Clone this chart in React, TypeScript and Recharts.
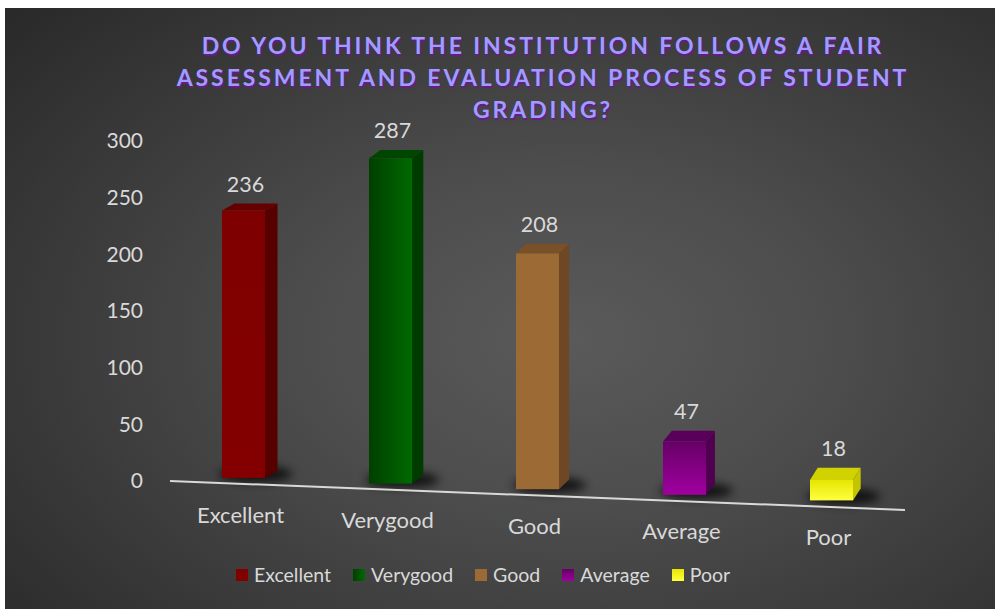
import React from 'react'
import { BarChart, Bar, XAxis, YAxis, Cell, LabelList, Legend, ReferenceLine } from 'recharts'

// values
const categories = ['Excellent', 'Verygood', 'Good', 'Average', 'Poor']
const counts = [236, 287, 208, 47, 18]
const yTicks = [0, 50, 100, 150, 200, 250, 300]

const title = [
  'DO YOU THINK THE INSTITUTION FOLLOWS A FAIR',
  'ASSESSMENT AND EVALUATION PROCESS OF STUDENT',
  'GRADING?',
]

const data = categories.map((name, i) => ({ name, value: counts[i] }))

// per-bar colours: front gradient (top, bottom, direction), side, top face
const palette = [
  { a: '#7f0000', b: '#840000', dir: 'v', side: '#560000', top: '#650000' },
  { a: '#003f00', b: '#006a00', dir: 'h', side: '#003b00', top: '#004600' },
  { a: '#9c6a35', b: '#9c6a35', dir: 'v', side: '#6e4824', top: '#7a5028' },
  { a: '#660066', b: '#a000a0', dir: 'v', side: '#4f004f', top: '#5a005a' },
  { a: '#e6e600', b: '#ffff40', dir: 'v', side: '#c4c400', top: '#d2d200' },
]

const FONT = 'Lato, "Noto Sans", sans-serif'
const TEXT = '#d9d9d9'
const TILT = 5.6 // baseline drops this much per category

const depth = (i: number) => ({ dx: 12.5 - i * 1.2, dy: -(7 + i * 1.3) })
const shift = (i: number) => -3 + i * TILT

function Box3D(props: any) {
  const { x, y, width, height, index } = props
  const p = palette[index]
  const { dx, dy } = depth(index)
  const top = y + shift(index)
  const bottom = y + height + shift(index)
  const right = x + width
  const gid = `front-${index}`
  return (
    <g>
      <defs>
        <linearGradient
          id={gid}
          x1="0"
          y1="0"
          x2={p.dir === 'h' ? '1' : '0'}
          y2={p.dir === 'h' ? '0' : '1'}
        >
          <stop offset="0%" stopColor={p.a} />
          <stop offset="100%" stopColor={p.b} />
        </linearGradient>
        <filter id={`blur-${index}`} x="-50%" y="-200%" width="200%" height="500%">
          <feGaussianBlur stdDeviation="5" />
        </filter>
      </defs>
      <ellipse
        cx={x + width / 2 + 12}
        cy={bottom - 4}
        rx={width * 0.85}
        ry={8}
        fill="#000"
        opacity={0.75}
        filter={`url(#blur-${index})`}
      />
      <polygon
        points={`${right},${top} ${right + dx},${top + dy} ${right + dx},${bottom + dy} ${right},${bottom}`}
        fill={p.side}
      />
      <polygon
        points={`${x},${top} ${x + dx},${top + dy} ${right + dx},${top + dy} ${right},${top}`}
        fill={p.top}
      />
      <rect x={x} y={top} width={width} height={bottom - top} fill={`url(#${gid})`} />
    </g>
  )
}

function ValueLabel(props: any) {
  const { x, y, width, value, index } = props
  const { dy } = depth(index)
  return (
    <text
      x={x + width / 2 + 2}
      y={y + shift(index) + dy - 17}
      textAnchor="middle"
      dominantBaseline="middle"
      fill={TEXT}
      fontSize={21.5}
      fontFamily={FONT}
    >
      {value}
    </text>
  )
}

function CategoryTick(props: any) {
  const { x, y, payload } = props
  return (
    <text
      x={x - 3}
      y={y + 36 + payload.index * TILT}
      textAnchor="middle"
      dominantBaseline="middle"
      fill={TEXT}
      fontSize={22}
      fontFamily={FONT}
    >
      {payload.value}
    </text>
  )
}

function TiltedBaseline(props: any) {
  const { x1, x2, y1 } = props
  return (
    <line
      x1={x1}
      y1={y1}
      x2={x2}
      y2={y1 + TILT * categories.length + 1}
      stroke="#d9d9d9"
      strokeWidth={2}
    />
  )
}

function LegendContent() {
  return (
    <div
      style={{
        display: 'flex',
        justifyContent: 'center',
        gap: 22,
        fontFamily: FONT,
        fontSize: 19.5,
        color: TEXT,
      }}
    >
      {categories.map((name, i) => {
        const p = palette[i]
        const bg =
          p.dir === 'h'
            ? `linear-gradient(to right, ${p.a}, ${p.b})`
            : `linear-gradient(to bottom, ${p.a}, ${p.b})`
        return (
          <div key={name} style={{ display: 'flex', alignItems: 'center', gap: 6 }}>
            <span style={{ width: 12, height: 12, background: bg, display: 'inline-block' }} />
            <span>{name}</span>
          </div>
        )
      })}
    </div>
  )
}

export default function App() {
  return (
    <div
      style={{
        position: 'absolute',
        left: 5,
        top: 8,
        width: 990,
        height: 601,
        background:
          'radial-gradient(ellipse 75% 80% at 57% 55%, #5a5a5a 0%, #4d4d4d 35%, #2a2a2a 100%)',
      }}
    >
      <div
        style={{
          position: 'absolute',
          left: 0,
          top: 21,
          width: 1076,
          textAlign: 'center',
          fontFamily: FONT,
          fontWeight: 700,
          fontSize: 23,
          letterSpacing: 2.9,
          lineHeight: '32px',
          color: '#a09cff',
          textShadow: '1px 2px 1px #6a1a8a',
          zIndex: 2,
        }}
      >
        {title.map((t) => (
          <div key={t}>{t}</div>
        ))}
      </div>
      <BarChart
        width={990}
        height={601}
        data={data}
        margin={{ top: 133, right: 90, left: 0, bottom: 88 }}
      >
        <YAxis
          domain={[0, 300]}
          ticks={yTicks}
          width={165}
          axisLine={false}
          tickLine={false}
          tickSize={0}
          tickMargin={27}
          tick={{ fill: TEXT, fontSize: 21, fontFamily: FONT }}
        />
        <XAxis
          dataKey="name"
          height={40}
          axisLine={false}
          tickLine={false}
          tickSize={0}
          tickMargin={0}
          tick={<CategoryTick />}
          interval={0}
        />
        <ReferenceLine y={0} shape={<TiltedBaseline />} />
        <Bar dataKey="value" barSize={43} shape={<Box3D />} isAnimationActive={false}>
          {data.map((d) => (
            <Cell key={d.name} />
          ))}
          <LabelList dataKey="value" content={<ValueLabel />} />
        </Bar>
        <Legend
          layout="horizontal"
          align="center"
          verticalAlign="middle"
          wrapperStyle={{ top: 555, left: 0, width: 956 }}
          content={<LegendContent />}
        />
      </BarChart>
    </div>
  )
}
